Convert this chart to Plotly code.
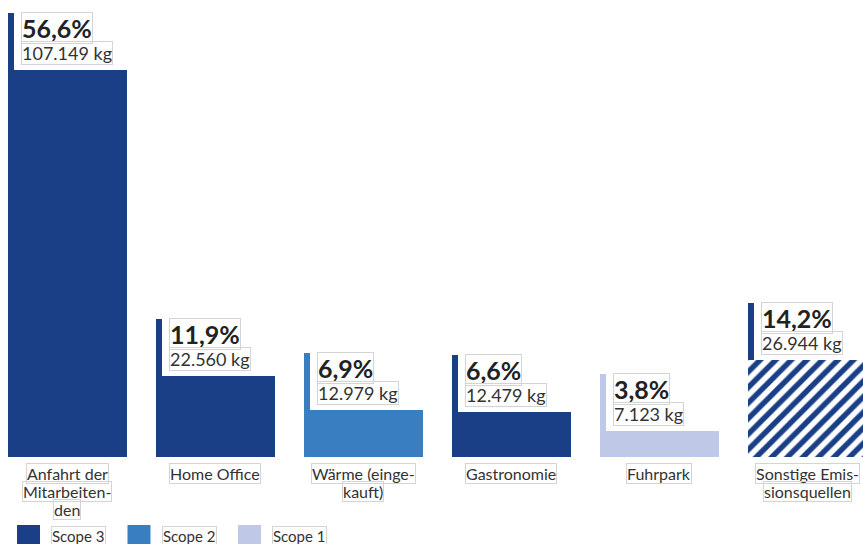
import plotly.graph_objects as go

# ---- data ----
categories = ["Anfahrt der<br>Mitarbeiten-<br>den", "Home Office", "Wärme (einge-<br>kauft)",
              "Gastronomie", "Fuhrpark", "Sonstige Emis-<br>sionsquellen"]
kg_values = [107149, 22560, 12979, 12479, 7123, 26944]
pct_labels = ["56,6%", "11,9%", "6,9%", "6,6%", "3,8%", "14,2%"]
scopes = ["Scope 3", "Scope 3", "Scope 2", "Scope 3", "Scope 1", "Scope 3"]
hatched = [False, False, False, False, False, True]
legend_items = ["Scope 3", "Scope 2", "Scope 1"]

scope_colors = {"Scope 3": "#1b3f87", "Scope 2": "#3a7ec2", "Scope 1": "#bfc8e6"}

# ---- layout constants (pixels) ----
W, H = 863, 544
PLOT_H = 457
CAT_PX = 148.0
BAR_PX = 119.0
ACCENT_PX = 6.0
ACCENT_H_PX = 57.0
Y_MAX = 126500.0
X_MIN = -0.456
BORDER = "#d4d4d4"

x = list(range(len(categories)))
bar_w = BAR_PX / CAT_PX
acc_w = ACCENT_PX / CAT_PX
accent_h = ACCENT_H_PX / PLOT_H * Y_MAX

colors = [scope_colors[s] for s in scopes]

fig = go.Figure()
fig.add_trace(go.Bar(
    x=x, y=kg_values, width=bar_w,
    marker=dict(
        color=colors, line=dict(width=0),
        pattern=dict(
            shape=["/" if h else "" for h in hatched],
            fgcolor=colors, bgcolor=["white" if h else c for h, c in zip(hatched, colors)],
            size=11, solidity=0.5, fillmode="replace",
        ),
    ),
    hoverinfo="skip", showlegend=False,
))
fig.add_trace(go.Bar(
    x=x, y=[accent_h] * len(x), base=kg_values, width=acc_w, offset=-bar_w / 2,
    marker=dict(color=colors, line=dict(width=0)),
    hoverinfo="skip", showlegend=False,
))

annotations = []
for i, (v, p) in enumerate(zip(kg_values, pct_labels)):
    kg_txt = f"{v:,}".replace(",", ".") + " kg"
    annotations.append(dict(
        x=i - bar_w / 2, y=v, xref="x", yref="y", xanchor="left", yanchor="bottom",
        xshift=13, yshift=26, text="<b>" + p + "</b>", showarrow=False,
        font=dict(family="Lato", size=25, color="#222222"),
        bordercolor=BORDER, borderwidth=1, borderpad=0,
    ))
    annotations.append(dict(
        x=i - bar_w / 2, y=v, xref="x", yref="y", xanchor="left", yanchor="bottom",
        xshift=13, yshift=5, text=kg_txt, showarrow=False,
        font=dict(family="Lato", size=18, color="#333333"),
        bordercolor=BORDER, borderwidth=1, borderpad=0,
    ))

LINE_PX = 18
for i, c in enumerate(categories):
    for k, line in enumerate(c.split("<br>")):
        annotations.append(dict(
            x=i, y=0, xref="x", yref="y", xanchor="center", yanchor="top",
            yshift=-6 - LINE_PX * k, text=line, showarrow=False,
            font=dict(family="Lato", size=16, color="#333333"),
            bordercolor=BORDER, borderwidth=1, borderpad=0,
        ))

# manual legend
shapes = []
LEG_X0, LEG_STEP, SQ_W, SQ_TOP, SQ_BOT = 17, 110.5, 23, 525, 548
for k, name in enumerate(legend_items):
    x0 = LEG_X0 + k * LEG_STEP
    shapes.append(dict(
        type="rect", xref="paper", yref="paper",
        x0=x0 / W, x1=(x0 + SQ_W) / W,
        y0=(PLOT_H - SQ_BOT) / PLOT_H, y1=(PLOT_H - SQ_TOP) / PLOT_H,
        fillcolor=scope_colors[name], line=dict(width=0), layer="above",
    ))
    annotations.append(dict(
        x=(x0 + 34) / W, y=(PLOT_H - 536) / PLOT_H, xref="paper", yref="paper",
        xanchor="left", yanchor="middle", text=name, showarrow=False,
        font=dict(family="Lato", size=15, color="#333333"),
        bordercolor=BORDER, borderwidth=1, borderpad=0,
    ))

fig.update_layout(
    width=W, height=H, autosize=False,
    margin=dict(l=0, r=0, t=0, b=H - PLOT_H, pad=0),
    paper_bgcolor="white", plot_bgcolor="white",
    barmode="overlay", bargap=0,
    xaxis=dict(range=[X_MIN, X_MIN + W / CAT_PX], showticklabels=False, showgrid=False,
               zeroline=False, showline=False, ticks="", fixedrange=True),
    yaxis=dict(range=[0, Y_MAX], visible=False, fixedrange=True),
    annotations=annotations, shapes=shapes, showlegend=False,
)
fig.write_html("out.html")
